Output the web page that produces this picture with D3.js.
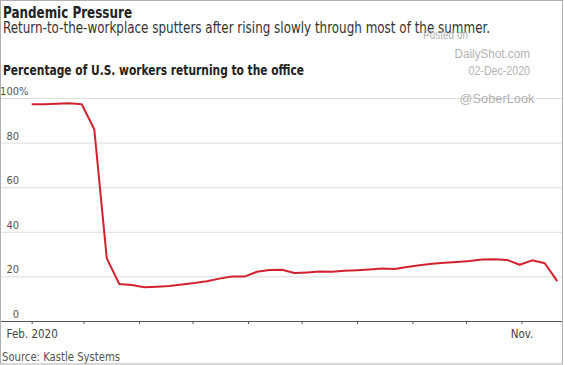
<!DOCTYPE html>
<html>
<head>
<meta charset="utf-8">
<script src="https://cdn.jsdelivr.net/npm/d3@7"></script>
<style>
  html, body { margin: 0; padding: 0; background: #fff; }
  svg { display: block; }
</style>
</head>
<body>
<svg id="chart" width="564" height="365"></svg>
<script>
// ---- data ----
const weeks = [
  "2020-02-01","2020-02-08","2020-02-15","2020-02-22","2020-02-29",
  "2020-03-07","2020-03-14","2020-03-21","2020-03-28","2020-04-04",
  "2020-04-11","2020-04-18","2020-04-25","2020-05-02","2020-05-09",
  "2020-05-16","2020-05-23","2020-05-30","2020-06-06","2020-06-13",
  "2020-06-20","2020-06-27","2020-07-04","2020-07-11","2020-07-18",
  "2020-07-25","2020-08-01","2020-08-08","2020-08-15","2020-08-22",
  "2020-08-29","2020-09-05","2020-09-12","2020-09-19","2020-09-26",
  "2020-10-03","2020-10-10","2020-10-17","2020-10-24","2020-10-31",
  "2020-11-07","2020-11-14","2020-11-21"
];
const occupancy = [
  97.2, 97.2, 97.4, 97.6, 97.2,
  86.0, 28.1, 16.6, 16.1, 15.1,
  15.4, 15.7, 16.4, 17.0, 17.8,
  19.0, 20.0, 19.9, 22.1, 22.9,
  23.0, 21.5, 21.8, 22.2, 22.1,
  22.5, 22.8, 23.1, 23.5, 23.3,
  24.2, 25.0, 25.7, 26.1, 26.5,
  26.9, 27.6, 27.7, 27.4, 25.2,
  27.2, 25.9, 17.9
];
const yTicks = [0, 20, 40, 60, 80, 100];
const monthTicks = ["2020-02-01","2020-03-01","2020-04-01","2020-05-01","2020-06-01",
                    "2020-07-01","2020-08-01","2020-09-01","2020-10-01","2020-11-01"];
const monthLabels = {"2020-02-01": "Feb. 2020", "2020-11-01": "Nov."};

const title = "Pandemic Pressure";
const subtitle = "Return-to-the-workplace sputters after rising slowly through most of the summer.";
const chartTitle = "Percentage of U.S. workers returning to the office";
const source = "Source: Kastle Systems";
const watermark = ["Posted on", "DailyShot.com", "02-Dec-2020", "@SoberLook"];

// ---- setup ----
const W = 564, H = 365;
const svg = d3.select("#chart");
const parse = d3.utcParse("%Y-%m-%d");
const data = weeks.map((d, i) => ({ date: parse(d), v: occupancy[i] }));

const condensed = "'Liberation Sans Narrow', 'DejaVu Sans Condensed', 'Roboto', sans-serif";
const plain = "'Liberation Sans', Arial, sans-serif";

function fitText(sel, w) {
  sel.attr("textLength", w).attr("lengthAdjust", "spacingAndGlyphs");
}

const x = d3.scaleUtc()
  .domain([parse("2020-02-01"), parse("2020-11-01")])
  .range([31.7, 521.5]);
const y = d3.scaleLinear().domain([0, 100]).range([321, 98]);

// gridlines + y labels
const yAxis = d3.axisRight(y)
  .tickValues(yTicks.filter(t => t > 0))
  .tickSize(562)
  .tickFormat(d => d);
const gy = svg.append("g").call(yAxis);
gy.select(".domain").remove();
gy.selectAll(".tick line").attr("stroke", "#dcdcdc").attr("stroke-width", 1);
gy.selectAll(".tick text")
  .attr("x", 19).attr("dy", -3.5)
  .attr("text-anchor", "end")
  .attr("font-family", condensed)
  .attr("font-size", 11)
  .attr("fill", "#555");
gy.selectAll(".tick").filter(d => d === 100).append("text")
  .attr("x", 19).attr("dy", -3.5)
  .attr("text-anchor", "start")
  .attr("font-family", condensed)
  .attr("font-size", 11)
  .attr("fill", "#555")
  .text("%");
// zero label
svg.append("text")
  .attr("x", 19).attr("y", y(0) - 3.5)
  .attr("text-anchor", "end")
  .attr("font-family", condensed)
  .attr("font-size", 11)
  .attr("fill", "#555")
  .text(yTicks[0]);

// x axis
const xAxis = d3.axisBottom(x)
  .tickValues(monthTicks.map(parse))
  .tickSize(3)
  .tickFormat(d => monthLabels[d3.utcFormat("%Y-%m-%d")(d)] || "");
const gx = svg.append("g").attr("transform", `translate(0,${y(0)})`).call(xAxis);
gx.select(".domain").remove();
gx.selectAll(".tick line").attr("stroke", "#555");
gx.selectAll(".tick text")
  .attr("y", 0).attr("dy", 0)
  .attr("transform", "translate(0,17)")
  .attr("font-family", condensed)
  .attr("font-size", 11.5)
  .attr("fill", "#444");
svg.append("line")
  .attr("x1", 0).attr("x2", 562)
  .attr("y1", y(0) + 0.5).attr("y2", y(0) + 0.5)
  .attr("stroke", "#555").attr("stroke-width", 1);

// line
const line = d3.line().x(d => x(d.date)).y(d => y(d.v));
svg.append("path")
  .datum(data)
  .attr("d", line)
  .attr("fill", "none")
  .attr("stroke", "#d3222f")
  .attr("stroke-width", 2)
  .attr("stroke-linejoin", "round");

// titles
svg.append("text").attr("x", 3).attr("y", 17.5)
  .attr("font-family", condensed).attr("font-weight", "bold")
  .attr("font-size", 16).attr("fill", "#222")
  .text(title).call(fitText, 129);
svg.append("text").attr("x", 3).attr("y", 33)
  .attr("font-family", condensed)
  .attr("font-size", 15).attr("fill", "#333")
  .text(subtitle).call(fitText, 487);
svg.append("text").attr("x", 3).attr("y", 74.5)
  .attr("font-family", condensed).attr("font-weight", "bold")
  .attr("font-size", 14.5).attr("fill", "#222")
  .text(chartTitle).call(fitText, 301);

// watermark
const wm = [
  { t: watermark[0], x: 423, y: 39, w: 45 },
  { t: watermark[1], x: 454.5, y: 57.5, w: 75.5 },
  { t: watermark[2], x: 468.5, y: 74.5, w: 61.5 },
  { t: watermark[3], x: 459.5, y: 102.5, w: 75 }
];
wm.forEach(d => {
  svg.append("text").attr("x", d.x).attr("y", d.y)
    .attr("font-family", plain).attr("font-size", 12)
    .attr("fill", "#b3b3b3")
    .text(d.t).call(fitText, d.w);
});

// source
svg.append("text").attr("x", 2).attr("y", 361)
  .attr("font-family", condensed)
  .attr("font-size", 12).attr("fill", "#555")
  .text(source).call(fitText, 118);

// frame
svg.append("rect")
  .attr("x", 0.5).attr("y", 0.5)
  .attr("width", W - 2).attr("height", H - 1.5)
  .attr("fill", "none").attr("stroke", "#b0b0b0").attr("stroke-width", 1);
</script>
</body>
</html>
